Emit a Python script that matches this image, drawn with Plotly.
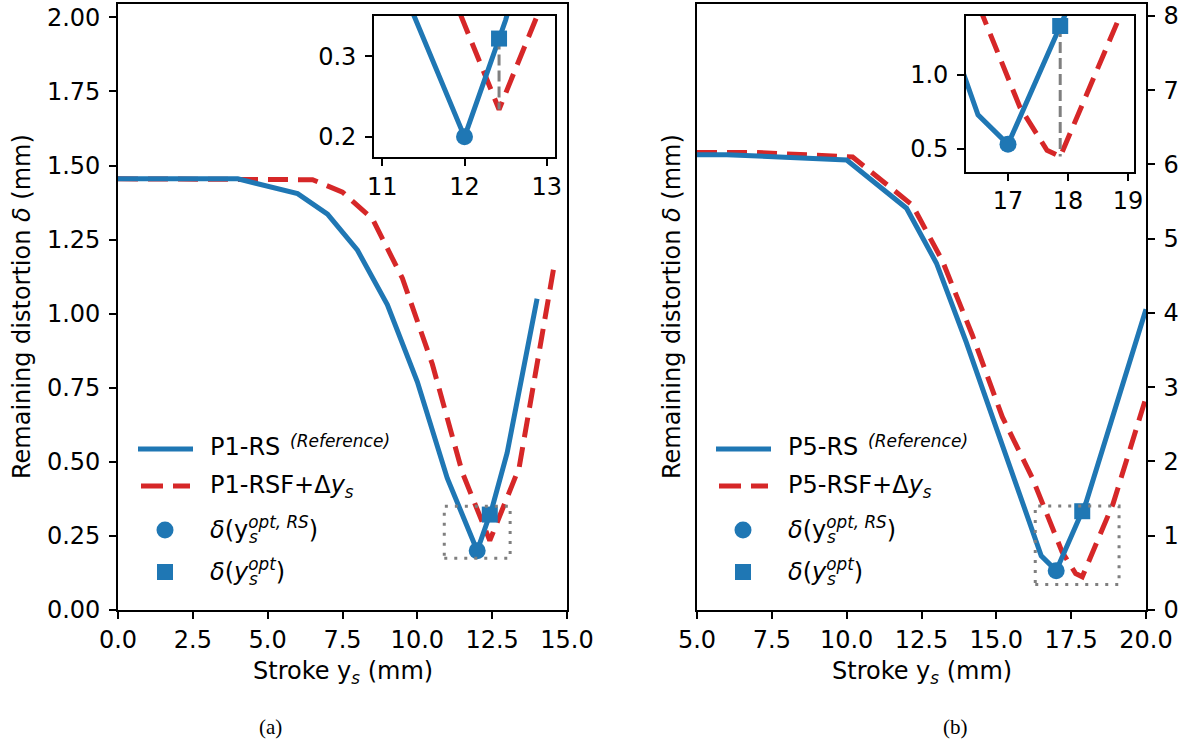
import plotly.graph_objects as go

# ---------------- data ----------------
P1_RS_X = [0, 4, 6, 7, 8, 9, 10, 11, 12, 12.5, 13, 14]
P1_RS_Y = [1.455, 1.455, 1.405, 1.336, 1.214, 1.03, 0.77, 0.445, 0.20, 0.345, 0.53, 1.05]
P1_RSF_X = [0, 6.5, 7.5, 8.5, 9.5, 10.5, 11.5, 12.42, 13.4, 14.6]
P1_RSF_Y = [1.455, 1.452, 1.41, 1.32, 1.12, 0.83, 0.465, 0.234, 0.48, 1.18]
P1_OPT_RS = [12.0, 0.20]
P1_OPT = [12.42, 0.322]
P1_RSF_MIN = 0.234

P5_RS_X = [5, 6, 10, 12, 13, 14, 15, 16, 16.5, 17, 18, 19, 20]
P5_RS_Y = [6.13, 6.13, 6.06, 5.41, 4.67, 3.6, 2.45, 1.3, 0.73, 0.53, 1.45, 2.75, 4.05]
P5_RSF_X = [5, 7, 10.2, 12.2, 13.2, 14.2, 15.2, 16.2, 17.2, 17.65, 17.87, 18.9, 20]
P5_RSF_Y = [6.16, 6.16, 6.1, 5.45, 4.7, 3.7, 2.6, 1.78, 0.78, 0.49, 0.447, 1.43, 2.86]
P5_OPT_RS = [17.0, 0.53]
P5_OPT = [17.87, 1.33]
P5_RSF_MIN = 0.447

INSET1_X = [10.9, 13.1]
INSET1_Y = [0.175, 0.35]
INSET2_X = [16.3, 19.1]
INSET2_Y = [0.345, 1.4]

X1_TICKS = [0, 2.5, 5, 7.5, 10, 12.5, 15]
Y1_TICKS = [0, 0.25, 0.5, 0.75, 1.0, 1.25, 1.5, 1.75, 2.0]
X2_TICKS = [5, 7.5, 10, 12.5, 15, 17.5, 20]
Y2_TICKS = [0, 1, 2, 3, 4, 5, 6, 7, 8]
X3_TICKS = [11, 12, 13]
Y3_TICKS = [0.2, 0.3]
X4_TICKS = [17, 18, 19]
Y4_TICKS = [0.5, 1.0]

LEGEND_P1 = ["P1-RS", "P1-RSF+Δ"]
LEGEND_P5 = ["P5-RS", "P5-RSF+Δ"]

# ---------------- style ----------------
W, H = 1184, 746
BLUE = '#1f77b4'
RED = '#d62728'
GRAY = '#7f7f7f'
FONT = 'DejaVu Sans'
FS = 24


def fx(p):
    return p / W


def fy(p):
    return 1 - p / H


fig = go.Figure()


def add_curves(xs_rs, ys_rs, xs_rsf, ys_rsf, opt_rs, opt, rsf_min, xa, ya, inset):
    fig.add_trace(go.Scatter(x=xs_rsf, y=ys_rsf, mode='lines', xaxis=xa, yaxis=ya,
                             line=dict(color=RED, width=5, dash='20px,10px'),
                             showlegend=False, hoverinfo='skip'))
    fig.add_trace(go.Scatter(x=xs_rs, y=ys_rs, mode='lines', xaxis=xa, yaxis=ya,
                             line=dict(color=BLUE, width=5),
                             showlegend=False, hoverinfo='skip'))
    if inset:
        fig.add_trace(go.Scatter(x=[opt[0], opt[0]], y=[opt[1], rsf_min], mode='lines',
                                 xaxis=xa, yaxis=ya,
                                 line=dict(color=GRAY, width=3, dash='11px,5px'),
                                 showlegend=False, hoverinfo='skip'))
    fig.add_trace(go.Scatter(x=[opt_rs[0]], y=[opt_rs[1]], mode='markers', xaxis=xa, yaxis=ya,
                             marker=dict(color=BLUE, size=17, symbol='circle', line=dict(width=0)),
                             showlegend=False, hoverinfo='skip'))
    fig.add_trace(go.Scatter(x=[opt[0]], y=[opt[1]], mode='markers', xaxis=xa, yaxis=ya,
                             marker=dict(color=BLUE, size=16, symbol='square', line=dict(width=0)),
                             showlegend=False, hoverinfo='skip'))


add_curves(P1_RS_X, P1_RS_Y, P1_RSF_X, P1_RSF_Y, P1_OPT_RS, P1_OPT, P1_RSF_MIN, 'x', 'y', False)
add_curves(P5_RS_X, P5_RS_Y, P5_RSF_X, P5_RSF_Y, P5_OPT_RS, P5_OPT, P5_RSF_MIN, 'x2', 'y2', False)
add_curves(P1_RS_X, P1_RS_Y, P1_RSF_X, P1_RSF_Y, P1_OPT_RS, P1_OPT, P1_RSF_MIN, 'x3', 'y3', True)
add_curves(P5_RS_X, P5_RS_Y, P5_RSF_X, P5_RSF_Y, P5_OPT_RS, P5_OPT, P5_RSF_MIN, 'x4', 'y4', True)

axstyle = dict(showline=True, linecolor='black', linewidth=1.6, mirror=True,
               ticks='outside', ticklen=7, tickwidth=1.6, tickcolor='black',
               showgrid=False, zeroline=False, fixedrange=True, automargin=False,
               tickfont=dict(family=FONT, size=FS, color='black'))

MAIN_Y = [fy(610), fy(4)]
fig.update_layout(
    width=W, height=H, margin=dict(l=0, r=0, t=0, b=0, autoexpand=False),
    paper_bgcolor='white', plot_bgcolor='white', showlegend=False,
    xaxis=dict(axstyle, domain=[fx(118), fx(567)], range=[0, 15], anchor='y',
               tickvals=X1_TICKS, tickformat='.1f'),
    yaxis=dict(axstyle, domain=MAIN_Y, range=[0, 2.045], anchor='x',
               tickvals=Y1_TICKS, tickformat='.2f', ticklabelstandoff=4),
    xaxis2=dict(axstyle, domain=[fx(697), fx(1146)], range=[5, 20], anchor='y2',
                tickvals=X2_TICKS, tickformat='.1f'),
    yaxis2=dict(axstyle, domain=MAIN_Y, range=[0, 8.16], anchor='x2', side='right',
                tickvals=Y2_TICKS, tickformat='d', ticklabelstandoff=4),
    xaxis3=dict(axstyle, domain=[fx(374), fx(555)], range=INSET1_X, anchor='y3',
                tickvals=X3_TICKS, tickformat='d'),
    yaxis3=dict(axstyle, domain=[fy(157), fy(16)], range=INSET1_Y, anchor='x3',
                tickvals=Y3_TICKS, tickformat='.1f', ticklabelstandoff=4),
    xaxis4=dict(axstyle, domain=[fx(966), fx(1134)], range=INSET2_X, anchor='y4',
                tickvals=X4_TICKS, tickformat='d'),
    yaxis4=dict(axstyle, domain=[fy(171.7), fy(15.7)], range=INSET2_Y, anchor='x4',
                tickvals=Y4_TICKS, tickformat='.1f', ticklabelstandoff=4),
)

shapes = []
# dotted zoom rectangles
for (xa, ya, rx, ry) in [('x', 'y', INSET1_X, INSET1_Y), ('x2', 'y2', INSET2_X, INSET2_Y)]:
    shapes.append(dict(type='rect', xref=xa, yref=ya, x0=rx[0], x1=rx[1], y0=ry[0], y1=ry[1],
                       line=dict(color=GRAY, width=3, dash='3px,7px'), fillcolor='rgba(0,0,0,0)'))

annotations = []


def ann(x, y, text, size=FS, angle=0, xanchor='left', family=FONT):
    annotations.append(dict(x=fx(x), y=fy(y), xref='paper', yref='paper', text=text,
                            showarrow=False, xanchor=xanchor, yanchor='middle',
                            textangle=angle, borderpad=0,
                            font=dict(family=family, size=size, color='black')))


for off, labels in [(0, LEGEND_P1), (578, LEGEND_P5)]:
    # legend swatches
    shapes.append(dict(type='line', xref='paper', yref='paper', x0=fx(138 + off), x1=fx(193 + off),
                       y0=fy(449), y1=fy(449), line=dict(color=BLUE, width=5)))
    shapes.append(dict(type='line', xref='paper', yref='paper', x0=fx(141 + off), x1=fx(190 + off),
                       y0=fy(486), y1=fy(486), line=dict(color=RED, width=5, dash='22px,10px')))
    shapes.append(dict(type='circle', xref='paper', yref='paper', x0=fx(156.5 + off), x1=fx(173.5 + off),
                       y0=fy(538.5), y1=fy(521.5), fillcolor=BLUE, line=dict(width=0)))
    shapes.append(dict(type='rect', xref='paper', yref='paper', x0=fx(157 + off), x1=fx(173 + off),
                       y0=fy(580), y1=fy(564), fillcolor=BLUE, line=dict(width=0)))
    # legend texts
    ann(209 + off, 447, labels[0])
    ann(289 + off, 441, '<i>(Reference)</i>', size=17)
    ann(209 + off, 486, labels[1] + '<i>y<sub>s</sub></i>')
    ann(209 + off, 528, '<i>δ</i>(y<sup><i>opt, RS</i></sup>)')
    ann(209 + off + 38.5, 537, '<i>s</i>', size=17)
    ann(209 + off, 570, '<i>δ</i>(<i>y<sup>opt</sup></i>)')
    ann(209 + off + 38.5, 579, '<i>s</i>', size=17)

# axis titles
ann(342.5, 672, 'Stroke y<sub><i>s</i></sub> (mm)', xanchor='center')
ann(921.5, 672, 'Stroke y<sub><i>s</i></sub> (mm)', xanchor='center')
ann(22, 307, 'Remaining distortion <i>δ</i> (mm)', angle=-90, xanchor='center')
ann(672, 307, 'Remaining distortion <i>δ</i> (mm)', angle=-90, xanchor='center')
# sub-captions
ann(270, 727, '(a)', size=21, xanchor='center', family='Liberation Serif')
ann(955, 727, '(b)', size=21, xanchor='center', family='Liberation Serif')

fig.update_layout(shapes=shapes, annotations=annotations)
fig.write_html("out.html")
